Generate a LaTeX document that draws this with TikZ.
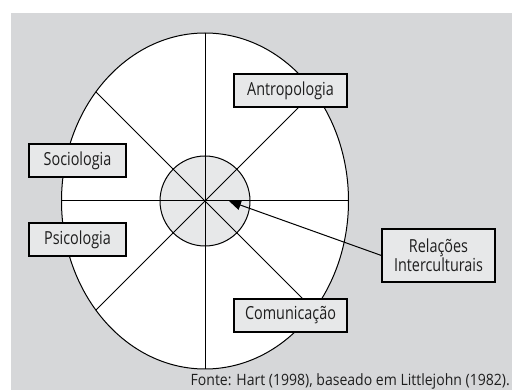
\documentclass[tikz,border=0pt]{standalone}
\usepackage{fontspec}
\setmainfont{Open Sans}[FakeStretch=0.8]
\newfontfamily\capfont{Open Sans}[FakeStretch=0.9]
\usetikzlibrary{arrows.meta}
\definecolor{bgray}{HTML}{D6D7D9}
\definecolor{lite}{HTML}{E7E8E9}
\definecolor{ink}{HTML}{1E1E1E}
\begin{document}
\begin{tikzpicture}[x=1pt,y=-1pt,
  labelbox/.style={draw=black, line width=1.2pt, fill=lite, inner sep=0pt,
    minimum height=33pt, text=ink, font=\fontsize{18}{19}\selectfont, align=center},
  wide/.style={labelbox, minimum width=113pt},
  narrow/.style={labelbox, minimum width=97pt},
  spoke/.style={line width=1pt, draw=black}]
\useasboundingbox (0,0) rectangle (512,390);
\fill[bgray] (11,13) rectangle (512,390);
\coordinate (c) at (205,201);
\draw[fill=white, line width=1pt] (c) ellipse [x radius=143.5, y radius=168];
\draw[fill=lite, line width=1pt] (c) circle [radius=45];
\coordinate (n) at (205,33);
\coordinate (s) at (205,369);
\coordinate (w) at (61.5,201);
\coordinate (e) at (348.5,201);
\coordinate (nw) at (95.9,91.9);
\coordinate (ne) at (314.1,91.9);
\coordinate (sw) at (95.9,310.1);
\coordinate (se) at (314.1,310.1);
\foreach \p in {n,s,w,e,nw,ne,sw,se} \draw[spoke] (c) -- (\p);
\node[wide] (antro) at (290.5,90.5) {Antropologia};
\node[narrow] (socio) at (77.5,160.5) {Sociologia};
\node[narrow] (psico) at (77.5,239.5) {Psicologia};
\node[wide] (comun) at (290.5,315.5) {Comunicação};
\node[wide, minimum height=53pt] (rel) at (438.5,255.5) {Relações\\Interculturais};
\coordinate (tip) at (229,201);
\draw[line width=1pt, -{Triangle[length=12pt,width=10pt]}] (rel.west) -- (tip);
\node[anchor=base east, inner sep=0pt, text=ink, font=\capfont\fontsize{15.6}{16}\selectfont] (src) at (510,385) {Fonte: Hart (1998), baseado em Littlejohn (1982).};
\end{tikzpicture}
\end{document}
